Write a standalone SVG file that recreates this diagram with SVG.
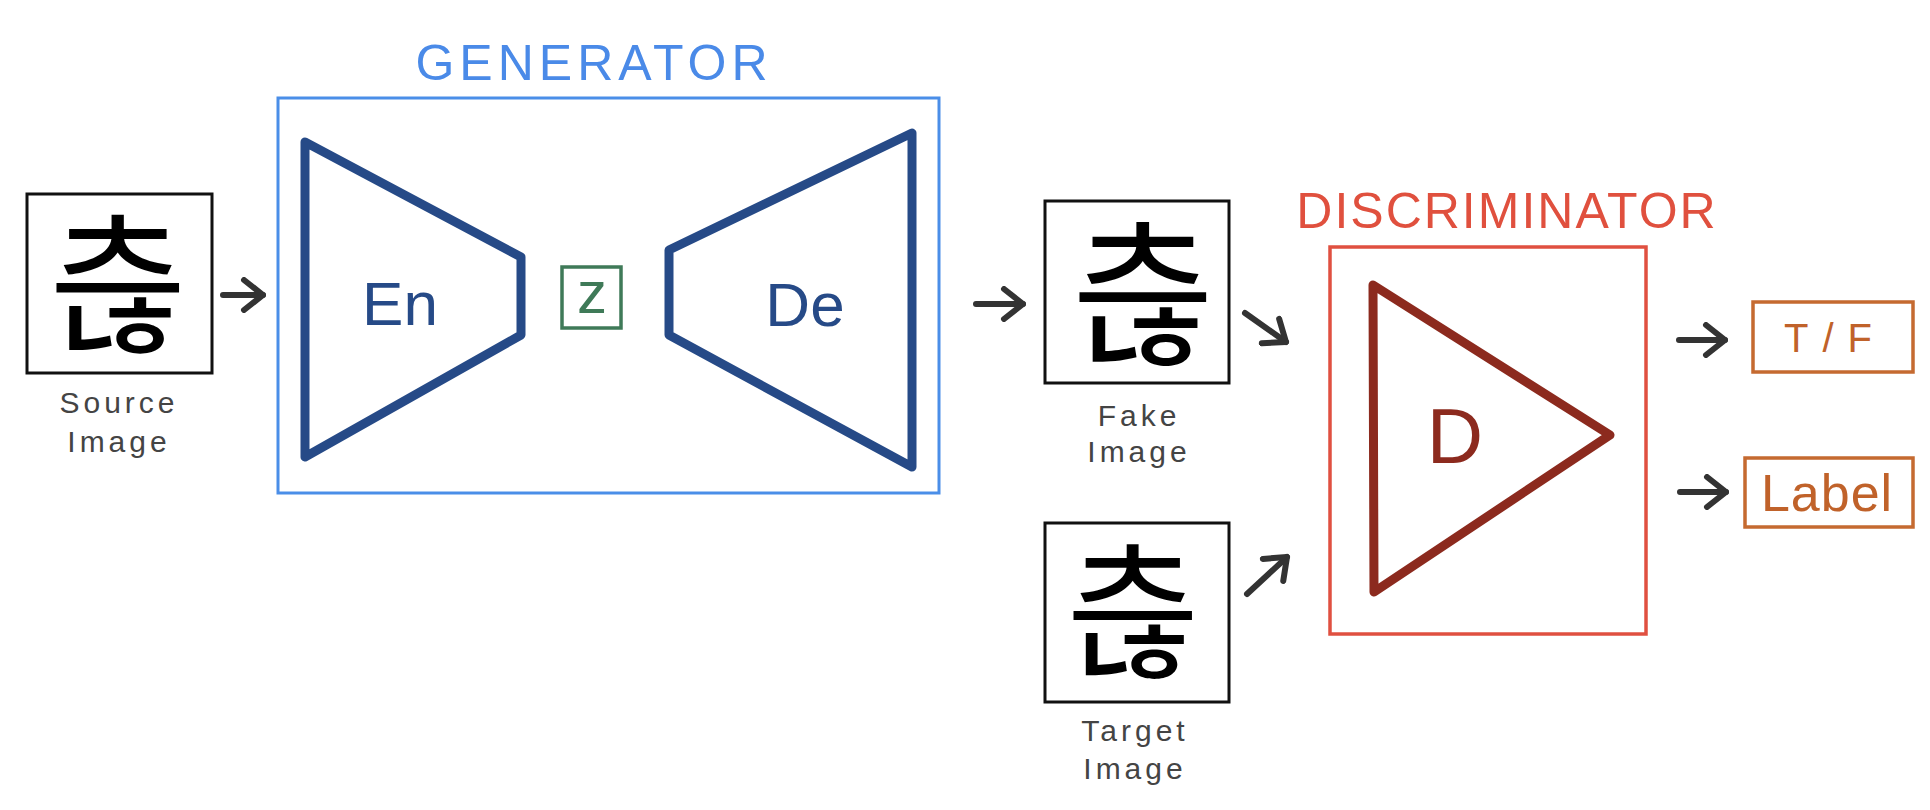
<svg xmlns="http://www.w3.org/2000/svg" width="1930" height="810" viewBox="0 0 1930 810">
<style>
.bg{fill:#ffffff}
.imgbox{fill:#ffffff;stroke:#111111;stroke-width:3}
.glyph{font-family:"Noto Sans CJK KR","Noto Sans CJK SC",sans-serif;font-weight:400;fill:#000000;text-anchor:middle}
.cap{font-family:"Liberation Sans",Arial,sans-serif;font-size:30px;fill:#444444;text-anchor:middle;letter-spacing:4px}
.title{font-family:"Liberation Sans",Arial,sans-serif;font-size:50px;text-anchor:middle}
.gen{fill:#4a8ae8}
.disc{fill:#e0503e}
.genbox{fill:none;stroke:#4a8ee8;stroke-width:3}
.discbox{fill:none;stroke:#e05040;stroke-width:3.5}
.trap{fill:none;stroke:#264a87;stroke-width:9;stroke-linejoin:round;stroke-linecap:round}
.tri{fill:none;stroke:#8c2a1e;stroke-width:9;stroke-linejoin:round;stroke-linecap:round}
.inner{font-family:"Liberation Sans",Arial,sans-serif;text-anchor:middle}
.outbox{fill:none;stroke:#c56a30;stroke-width:3.5}
.outtxt{font-family:"Liberation Sans",Arial,sans-serif;fill:#c0622a;text-anchor:middle}
.arrow{fill:none;stroke:#333333;stroke-width:6;stroke-linecap:round;marker-end:url(#head)}
</style>
<defs>
<marker id="head" viewBox="0 0 26 36" refX="23" refY="18" markerWidth="26" markerHeight="36" markerUnits="userSpaceOnUse" orient="auto">
<path d="M4,3 L23,18 L4,33" fill="none" stroke="#333333" stroke-width="6" stroke-linecap="round" stroke-linejoin="round"/>
</marker>
</defs>
<rect class="bg" x="0" y="0" width="1930" height="810"/>

<g id="source-image">
<rect class="imgbox" x="27" y="194" width="185" height="179"/>
<text class="glyph" x="118" y="340" font-size="150">츦</text>
<text class="cap" x="119" y="413">Source</text>
<text class="cap" x="119" y="452">Image</text>
</g>

<g id="generator">
<text class="title gen" x="594" y="80" letter-spacing="5">GENERATOR</text>
<rect class="genbox" x="278" y="98" width="661" height="395"/>
<g id="encoder">
<polygon class="trap" points="305,142 521,257 521,335 305,457"/>
<text class="inner" x="400" y="325" font-size="62" fill="#264a87">En</text>
</g>
<g id="latent-z">
<rect x="562" y="267" width="59" height="61" fill="none" stroke="#3f7a58" stroke-width="3.5"/>
<text class="inner" x="592" y="313" font-size="60" fill="#3f7a58">z</text>
</g>
<g id="decoder">
<polygon class="trap" points="669,250 912,133 912,467 669,335"/>
<text class="inner" x="805" y="326" font-size="62" fill="#264a87">De</text>
</g>
</g>

<g id="fake-image">
<rect class="imgbox" x="1045" y="201" width="184" height="182"/>
<text class="glyph" x="1143" y="351" font-size="155" font-weight="700">츦</text>
<text class="cap" x="1139" y="426">Fake</text>
<text class="cap" x="1139" y="462">Image</text>
</g>

<g id="target-image">
<rect class="imgbox" x="1045" y="523" width="184" height="179"/>
<text class="glyph" x="1133" y="666" font-size="145">츦</text>
<text class="cap" x="1135" y="741">Target</text>
<text class="cap" x="1135" y="779">Image</text>
</g>

<g id="discriminator">
<text class="title disc" x="1507" y="228" letter-spacing="2">DISCRIMINATOR</text>
<rect class="discbox" x="1330" y="247" width="316" height="387"/>
<polygon class="tri" points="1373,285 1610,435 1374,592"/>
<text class="inner" x="1455" y="463" font-size="78" fill="#8c2a1e">D</text>
</g>

<g id="output-tf">
<rect class="outbox" x="1753" y="302" width="160" height="70"/>
<text class="outtxt" x="1835" y="352" font-size="40" letter-spacing="14">T/F</text>
</g>

<g id="output-label">
<rect class="outbox" x="1745" y="458" width="168" height="69"/>
<text class="outtxt" x="1827" y="511" font-size="52" letter-spacing="1">Label</text>
</g>

<g id="connectors">
<path class="arrow" d="M223,295 L263,295"/>
<path class="arrow" d="M976,304 L1023,304"/>
<path class="arrow" d="M1245,313 L1286,342"/>
<path class="arrow" d="M1247,594 L1287,557"/>
<path class="arrow" d="M1679,340 L1725,340"/>
<path class="arrow" d="M1680,492 L1726,492"/>
</g>
</svg>
